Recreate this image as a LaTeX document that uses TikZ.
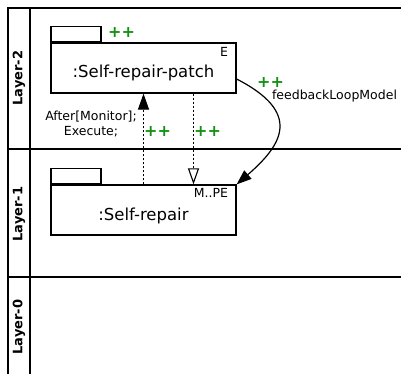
\documentclass[tikz,border=0pt]{standalone}
\usepackage{fontspec}
\setmainfont{DejaVu Sans}
\usepackage{tikz}
\usetikzlibrary{arrows.meta,positioning,calc}
\definecolor{plusgreen}{RGB}{20, 145, 20}

\begin{document}
\begin{tikzpicture}[x=1pt, y=-1pt, line width=1.2pt, >=Latex,
    pkgbody/.style={draw, minimum width=185pt, minimum height=50pt, inner sep=0pt},
    pkgtab/.style={draw, minimum width=50pt, minimum height=15pt, inner sep=0pt, anchor=south west},
    pkgname/.style={font=\fontsize{16.5}{18}\selectfont, inner sep=0pt},
    tag/.style={font=\fontsize{12.5}{14}\selectfont, inner sep=0pt, anchor=east},
    plus/.style={font=\fontsize{16}{17}\selectfont\bfseries, text=plusgreen, inner sep=0pt},
    lbl/.style={font=\fontsize{12.5}{15}\selectfont, inner sep=0pt, align=center},
    layerlbl/.style={font=\fontsize{13}{14}\selectfont\bfseries, rotate=90, inner sep=0pt},
    dep/.style={line width=1.1pt, dash pattern=on 2pt off 2pt}]
    \useasboundingbox (0,0) rectangle (401,374);

    % Layer frame
    \draw (8,374) -- (8,8) -- (401,8);
    \draw (30,8) -- (30,374);
    \draw (8,149) -- (401,149);
    \draw (8,277) -- (401,277);

    % Layer names
    \node[layerlbl] (l2) at (19,78) {Layer-2};
    \node[layerlbl] (l1) at (19,214) {Layer-1};
    \node[layerlbl] (l0) at (19,327) {Layer-0};

    % Packages
    \node[pkgbody] (srp) at (143.5,68) {};
    \node[pkgtab] (srptab) at (srp.north west) {};
    \node[pkgname] (srpname) at ($(srp.center)+(0,5)$) {:Self-repair-patch};
    \node[tag] (srptag) at ($(srp.north east)+(-8,10)$) {E};
    \node[plus] (srpplus) at (121.5,32) {++};

    \node[pkgbody] (sr) at (143.5,210) {};
    \node[pkgtab] (srtab) at (sr.north west) {};
    \node[pkgname] (srname) at ($(sr.center)+(0,6)$) {:Self-repair};
    \node[tag] (srtag) at ($(sr.north east)+(-8,9)$) {M..PE};

    % Dependencies between the layers
    \draw[dep, -{Triangle[length=16pt, width=11pt]}] (sr.north) -- (srp.south);
    \draw[dep, -{Triangle[open, length=16pt, width=11pt]}] ($(srp.south)+(50,0)$) -- ($(sr.north)+(50,0)$);
    \node[lbl] (after) at (91,124) {After[Monitor];\\Execute;};
    \node[plus] (upplus) at (157.5,131) {++};
    \node[plus] (downplus) at (207.5,131) {++};

    % Feedback loop
    \draw[-{Triangle[length=15pt, width=11pt]}] ($(srp.east)+(0,11)$) .. controls (303,113) and (282,145) .. (sr.north east);
    \node[plus] (loopplus) at (270.5,82) {++};
    \node[lbl] (loop) at (334.5,96) {feedbackLoopModel};
\end{tikzpicture}
\end{document}
